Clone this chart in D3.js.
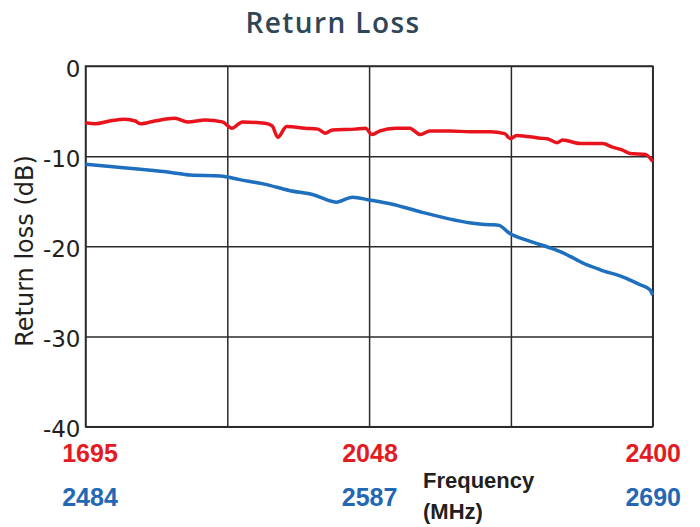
<!DOCTYPE html>
<html>
<head>
<meta charset="utf-8">
<script src="https://cdn.jsdelivr.net/npm/d3@7"></script>
<style>
  body { margin: 0; background: #fff; }
  .grid line { stroke: #2b2b2b; stroke-width: 1.5; }
  .grid path { display: none; }
  .ylab text { font-family: "DejaVu Sans", sans-serif; font-size: 23px; fill: #231f20; }
  .flab text { font-family: "Liberation Sans", Arial, sans-serif; font-size: 25px; font-weight: bold; }
</style>
</head>
<body>
<div id="chart"></div>
<script>
// red band: 1695-2400 MHz
const redFreq = [1695,1707,1725,1744,1757,1763,1781,1806,1822,1844,1865,1877,1890,1918,1927,1934,1945,1968,1984,1993,2002,2030,2043,2051,2061,2080,2098,2111,2123,2148,2173,2198,2216,2223,2231,2260,2270,2281,2288,2310,2338,2350,2362,2372,2391,2400];
const redLoss = [-6.3,-6.4,-6.1,-5.9,-6.1,-6.4,-6.1,-5.8,-6.2,-6.0,-6.2,-6.9,-6.2,-6.35,-6.65,-7.9,-6.7,-6.9,-7.0,-7.45,-7.1,-7.0,-6.9,-7.6,-7.2,-6.9,-6.9,-7.6,-7.2,-7.2,-7.3,-7.3,-7.5,-8.05,-7.7,-8.0,-8.1,-8.5,-8.2,-8.6,-8.6,-9.0,-9.3,-9.7,-9.8,-10.6];

// blue band: 2484-2690 MHz
const blueFreq = [2484,2493,2504,2515,2522,2533,2540,2549,2558,2567,2575,2581,2587,2595,2606,2616,2624,2631,2634,2638,2645,2653,2658,2665,2671,2680,2685,2689,2690];
const blueLoss = [-10.9,-11.15,-11.45,-11.8,-12.1,-12.2,-12.6,-13.1,-13.8,-14.3,-15.1,-14.55,-14.85,-15.3,-16.2,-16.95,-17.4,-17.6,-17.65,-18.55,-19.4,-20.2,-20.8,-21.9,-22.6,-23.5,-24.2,-24.8,-25.4];

const yTicks = [0, -10, -20, -30, -40];
const redTicks = [1695, 2048, 2400];
const blueTicks = [2484, 2587, 2690];
const redGrid = [1695, 1871.25, 2047.5, 2223.75, 2400];

const width = 700, height = 527;
const plotLeft = 85.5, plotRight = 652.7, plotTop = 66, plotBottom = 426.7;

const svg = d3.select('#chart').append('svg')
    .attr('width', width)
    .attr('height', height);

const xRed = d3.scaleLinear().domain([1695, 2400]).range([plotLeft, plotRight]);
const xBlue = d3.scaleLinear().domain([2484, 2690]).range([plotLeft, plotRight]);
const y = d3.scaleLinear().domain([-40, 0]).range([plotBottom, plotTop]);

const plain = d => String(d);   // keep the ascii hyphen, not d3's unicode minus

// title
svg.append('text')
    .attr('x', 333)
    .attr('y', 33)
    .attr('text-anchor', 'middle')
    .style('font-family', '"Open Sans", sans-serif')
    .style('font-weight', 600)
    .style('font-size', '28px')
    .style('letter-spacing', '1.4px')
    .style('fill', '#2f4657')
    .text('Return Loss');

// horizontal grid + y labels
const yAxis = svg.append('g')
    .attr('class', 'grid ylab')
    .attr('transform', 'translate(' + plotLeft + ',0)')
    .call(d3.axisLeft(y).tickValues(yTicks).tickSize(-(plotRight - plotLeft)).tickFormat(plain));
yAxis.selectAll('text').attr('dy', 10).attr('x', -5);

// vertical grid
svg.append('g')
    .attr('class', 'grid')
    .attr('transform', 'translate(0,' + plotBottom + ')')
    .call(d3.axisBottom(xRed).tickValues(redGrid).tickSize(-(plotBottom - plotTop)).tickFormat(''));

// frame
svg.append('rect')
    .attr('x', plotLeft).attr('y', plotTop)
    .attr('width', plotRight - plotLeft).attr('height', plotBottom - plotTop)
    .attr('fill', 'none')
    .attr('stroke', '#2b2b2b')
    .attr('stroke-width', 1.5);

const line = d3.line().curve(d3.curveMonotoneX);

svg.append('path')
    .attr('d', line(blueFreq.map((f, i) => [xBlue(f), y(blueLoss[i])])))
    .attr('fill', 'none')
    .attr('stroke', '#1f6fbf')
    .attr('stroke-width', 3.5)
    .attr('stroke-linejoin', 'round');

svg.append('path')
    .attr('d', line(redFreq.map((f, i) => [xRed(f), y(redLoss[i])])))
    .attr('fill', 'none')
    .attr('stroke', '#e8131c')
    .attr('stroke-width', 3.5)
    .attr('stroke-linejoin', 'round');

// frequency labels, red row and blue row
const redAxis = svg.append('g')
    .attr('class', 'flab')
    .attr('transform', 'translate(0,' + plotBottom + ')')
    .call(d3.axisBottom(xRed).tickValues(redTicks).tickSize(0).tickFormat(plain));
redAxis.select('.domain').remove();
redAxis.selectAll('text').attr('y', 35).attr('dy', 0).style('fill', '#e31b23');

const blueAxis = svg.append('g')
    .attr('class', 'flab')
    .attr('transform', 'translate(0,' + plotBottom + ')')
    .call(d3.axisBottom(xBlue).tickValues(blueTicks).tickSize(0).tickFormat(plain));
blueAxis.select('.domain').remove();
blueAxis.selectAll('text').attr('y', 79).attr('dy', 0).style('fill', '#2367b5');

// first labels sit a bit right of the frame edge
redAxis.selectAll('text').filter(d => d === 1695).attr('x', 4);
blueAxis.selectAll('text').filter(d => d === 2484).attr('x', 4);

// axis titles
const freqLab = svg.append('text')
    .style('font-family', '"Liberation Sans", Arial, sans-serif')
    .style('font-weight', 'bold')
    .style('font-size', '22px')
    .style('fill', '#231f20');
freqLab.append('tspan').attr('x', 423).attr('y', 488).text('Frequency');
freqLab.append('tspan').attr('x', 423).attr('y', 519).text('(MHz)');

svg.append('text')
    .attr('transform', 'translate(33,251) rotate(-90)')
    .attr('text-anchor', 'middle')
    .style('font-family', '"DejaVu Sans", sans-serif')
    .style('font-size', '24px')
    .style('fill', '#231f20')
    .text('Return loss (dB)');
</script>
</body>
</html>
